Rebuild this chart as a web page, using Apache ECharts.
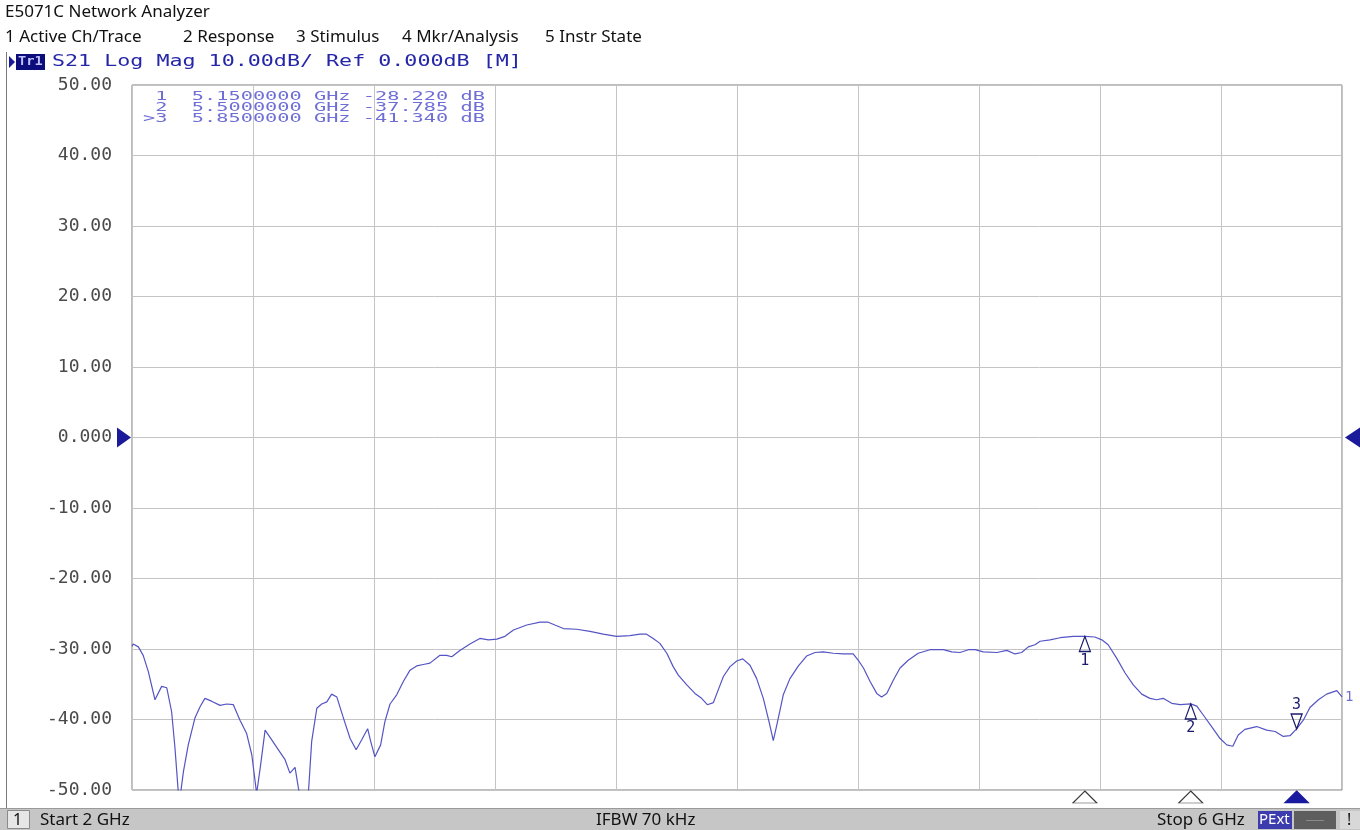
<!DOCTYPE html>
<html>
<head>
<meta charset="utf-8">
<script src="https://cdn.jsdelivr.net/npm/echarts@6/dist/echarts.min.js"></script>
<style>html,body{margin:0;padding:0;background:#fff}#c{width:1360px;height:830px}</style>
</head>
<body>
<div id="c"></div>
<script>
// ---- data ----
const freqGHz = [2.000,2.004,2.021,2.037,2.054,2.076,2.098,2.115,2.131,2.142,
2.156,2.170,2.186,2.208,2.225,2.241,2.263,2.291,2.313,2.335,
2.357,2.379,2.396,2.412,2.425,2.440,2.462,2.484,2.506,2.522,
2.539,2.550,2.565,2.583,2.594,2.611,2.627,2.644,2.660,2.677,
2.699,2.721,2.741,2.759,2.779,2.789,2.803,2.822,2.836,2.853,
2.875,2.897,2.919,2.941,2.963,2.985,3.018,3.040,3.057,3.084,
3.117,3.150,3.178,3.206,3.233,3.261,3.305,3.349,3.376,3.398,
3.426,3.470,3.514,3.558,3.602,3.646,3.679,3.701,3.723,3.745,
3.768,3.789,3.806,3.834,3.861,3.883,3.902,3.922,3.938,3.955,
3.977,3.999,4.019,4.043,4.065,4.087,4.107,4.120,4.133,4.153,
4.175,4.203,4.230,4.258,4.285,4.318,4.351,4.384,4.401,4.418,
4.440,4.462,4.478,4.495,4.517,4.539,4.566,4.599,4.638,4.682,
4.710,4.737,4.765,4.787,4.814,4.859,4.892,4.919,4.941,4.963,
4.985,5.002,5.035,5.068,5.112,5.150,5.183,5.206,5.227,5.255,
5.283,5.310,5.338,5.365,5.387,5.409,5.437,5.465,5.500,5.520,
5.542,5.569,5.597,5.619,5.639,5.657,5.679,5.718,5.751,5.779,
5.806,5.828,5.850,5.872,5.894,5.922,5.949,5.983,6.000];

const s21dB = [-29.6,-29.3,-29.7,-30.9,-33.2,-37.2,-35.3,-35.5,-38.9,-44.0,
-52.0,-47.4,-43.6,-39.8,-38.2,-37.0,-37.4,-38.0,-37.8,-37.9,
-40.1,-42.0,-45.0,-50.5,-46.5,-41.5,-42.9,-44.3,-45.7,-47.6,
-46.8,-49.7,-53.0,-50.5,-43.1,-38.4,-37.8,-37.5,-36.4,-36.8,
-39.8,-42.7,-44.3,-42.9,-41.3,-43.1,-45.3,-43.6,-40.3,-37.8,
-36.5,-34.6,-33.0,-32.4,-32.2,-32.0,-30.9,-30.9,-31.1,-30.2,
-29.3,-28.5,-28.7,-28.6,-28.2,-27.3,-26.6,-26.2,-26.2,-26.6,
-27.1,-27.2,-27.5,-27.9,-28.2,-28.1,-27.9,-27.9,-28.5,-29.2,
-30.6,-32.5,-33.7,-35.1,-36.3,-37.0,-37.9,-37.6,-35.8,-33.9,
-32.5,-31.7,-31.4,-32.3,-34.2,-37.0,-40.5,-43.0,-40.5,-36.5,
-34.2,-32.4,-31.0,-30.5,-30.4,-30.6,-30.7,-30.7,-31.6,-32.7,
-34.6,-36.3,-36.8,-36.3,-34.4,-32.7,-31.6,-30.6,-30.1,-30.1,
-30.4,-30.5,-30.1,-30.1,-30.4,-30.5,-30.2,-30.7,-30.5,-29.7,
-29.4,-28.9,-28.7,-28.4,-28.2,-28.22,-28.3,-28.7,-29.4,-31.3,
-33.4,-35.1,-36.4,-37.0,-37.2,-37.0,-37.7,-37.9,-37.785,-38.1,
-39.4,-41.0,-42.7,-43.6,-43.8,-42.2,-41.4,-41.0,-41.5,-41.7,
-42.4,-42.3,-41.34,-40.1,-38.3,-37.2,-36.4,-35.9,-36.8];

const yTickValues = [50,40,30,20,10,0,-10,-20,-30,-40,-50];
const yTickLabels = ['50.00','40.00','30.00','20.00','10.00','0.000','-10.00','-20.00','-30.00','-40.00','-50.00'];

const markerNames = ['1','2','3'];
const markerFreqs = [5.15, 5.5, 5.85];
const markerValues = [-28.22, -37.785, -41.34];
const markerTable = [' 1  5.1500000 GHz -28.220 dB',
                     ' 2  5.5000000 GHz -37.785 dB',
                     '>3  5.8500000 GHz -41.340 dB'];
const activeMarker = 2;
const refLevel = 0;
const startGHz = 2, stopGHz = 6;

// ---- chart ----
const chart = echarts.init(document.getElementById('c'), null, {renderer: 'canvas'});
const traceData = freqGHz.map((f, i) => [f, s21dB[i]]);
const NAVY = '#1a1a6e';
const MONO = '"DejaVu Sans Mono", monospace';
const UI = '"Noto Sans", "Open Sans", sans-serif';

const mpData = [];
markerFreqs.forEach((f, i) => {
  const active = i === activeMarker;
  mpData.push({
    coord: [f, markerValues[i]],
    symbol: active ? 'path://M0,0L12,0L6,16Z' : 'path://M6,0L12,16L0,16Z',
    symbolSize: [11, 15],
    symbolOffset: [0, active ? -7.5 : 7.5],
    itemStyle: {color: 'rgba(255,255,255,0)', borderColor: NAVY, borderWidth: 1.3},
    label: {show: true, formatter: markerNames[i], position: active ? 'top' : 'bottom', distance: 1,
            color: NAVY, fontSize: 15, fontFamily: MONO}
  });
  mpData.push({
    coord: [f, -50],
    symbol: 'path://M11,0L22,11L0,11Z',
    symbolSize: [24, 12],
    symbolOffset: [0, 7],
    itemStyle: active ? {color: '#1a1aa0', borderColor: '#1a1aa0', borderWidth: 1}
                      : {color: '#ffffff', borderColor: '#3a3a3a', borderWidth: 1},
    label: {show: false}
  });
});
mpData.push({coord: [startGHz, refLevel], symbol: 'path://M0,0L14,10L0,20Z', symbolSize: [14, 20],
  symbolOffset: [-8, 0], itemStyle: {color: '#1a1a9a'}, label: {show: false}});
mpData.push({coord: [stopGHz, refLevel], symbol: 'path://M14,0L0,10L14,20Z', symbolSize: [15, 20],
  symbolOffset: [10.5, 0], itemStyle: {color: '#1a1a9a'}, label: {show: false}});

const uiText = (t, x, y, size) => ({type: 'text', x: x, y: y,
  style: {text: t, font: size + 'px ' + UI, fill: '#111', verticalAlign: 'middle'}});

const graphic = [
  uiText('E5071C Network Analyzer', 5, 12, 17),
  uiText('1 Active Ch/Trace', 5, 37, 17),
  uiText('2 Response', 183, 37, 17),
  uiText('3 Stimulus', 296, 37, 17),
  uiText('4 Mkr/Analysis', 402, 37, 17),
  uiText('5 Instr State', 545, 37, 17),
  {type: 'line', shape: {x1: 6.5, y1: 52, x2: 6.5, y2: 808}, style: {stroke: '#7a7a7a', lineWidth: 1}},
  {type: 'polygon', shape: {points: [[9, 56], [15, 62], [9, 68]]}, style: {fill: '#1a1a9a'}},
  {type: 'rect', shape: {x: 16, y: 54, width: 29, height: 16}, style: {fill: '#0c0c7a'}},
  {type: 'text', x: 18, y: 62, scaleX: 1.05, style: {text: 'Tr1', font: 'bold 13px ' + MONO, fill: '#c0c0ff', verticalAlign: 'middle'}},
  {type: 'text', x: 52, y: 62, scaleX: 1.445, style: {text: 'S21 Log Mag 10.00dB/ Ref 0.000dB [M]', font: '15px ' + MONO, fill: '#2626a8', verticalAlign: 'middle'}},
  {type: 'rect', shape: {x: 0, y: 808, width: 1360, height: 22}, style: {fill: '#c6c6c6'}},
  {type: 'line', shape: {x1: 0, y1: 808.5, x2: 1360, y2: 808.5}, style: {stroke: '#9a9a9a', lineWidth: 1}},
  {type: 'rect', shape: {x: 7.5, y: 810.5, width: 22, height: 18}, style: {fill: '#e6e6e6', stroke: '#8a8a8a'}},
  uiText('1', 13, 820, 16),
  uiText('Start 2 GHz', 40, 820, 17),
  uiText('IFBW 70 kHz', 596, 820, 17),
  uiText('Stop 6 GHz', 1157, 820, 17),
  {type: 'rect', shape: {x: 1258, y: 811, width: 34, height: 18}, style: {fill: '#3c3cae'}},
  {type: 'text', x: 1259, y: 820, style: {text: 'PExt', font: '15px ' + UI, fill: '#ffffff', verticalAlign: 'middle'}},
  {type: 'rect', shape: {x: 1294, y: 811, width: 42, height: 18}, style: {fill: '#5e5e5e'}},
  {type: 'line', shape: {x1: 1306, y1: 820.5, x2: 1324, y2: 820.5}, style: {stroke: '#8a8a8a', lineWidth: 1}},
  {type: 'rect', shape: {x: 1340, y: 811, width: 20, height: 18}, style: {fill: '#d8d8d8'}},
  uiText('!', 1347, 820, 16)
];
markerTable.forEach((t, i) => {
  graphic.push({type: 'text', x: 143, y: 97 + i * 11, scaleX: 1.56,
    style: {text: t, font: '13px ' + MONO, fill: '#6e6ed6', verticalAlign: 'middle'}});
});

const option = {
  animation: false,
  backgroundColor: '#ffffff',
  grid: {left: 132, right: 18, top: 85, bottom: 40, show: true, borderColor: '#7a7a7a', borderWidth: 1, backgroundColor: '#ffffff'},
  xAxis: {
    type: 'value', min: startGHz, max: stopGHz, interval: 0.4,
    axisLabel: {show: false}, axisTick: {show: false}, axisLine: {show: false},
    splitLine: {show: true, lineStyle: {color: '#c4c4c4', width: 1}}
  },
  yAxis: {
    type: 'value', min: -50, max: 50, interval: 10,
    axisLine: {show: false}, axisTick: {show: false},
    splitLine: {show: true, lineStyle: {color: '#c4c4c4', width: 1}},
    axisLabel: {
      margin: 20, fontFamily: MONO, fontSize: 18, color: '#4a4a4a',
      formatter: v => yTickLabels[yTickValues.indexOf(Math.round(v))]
    }
  },
  series: [{
    type: 'line',
    data: traceData,
    showSymbol: false,
    clip: true,
    smooth: false,
    lineStyle: {color: '#5454c4', width: 1.2},
    endLabel: {show: true, formatter: '1', color: '#7070d0', fontSize: 14, fontFamily: MONO, distance: 3},
    markPoint: {silent: true, animation: false, data: mpData}
  }],
  graphic: graphic
};
chart.setOption(option);
</script>
</body>
</html>
